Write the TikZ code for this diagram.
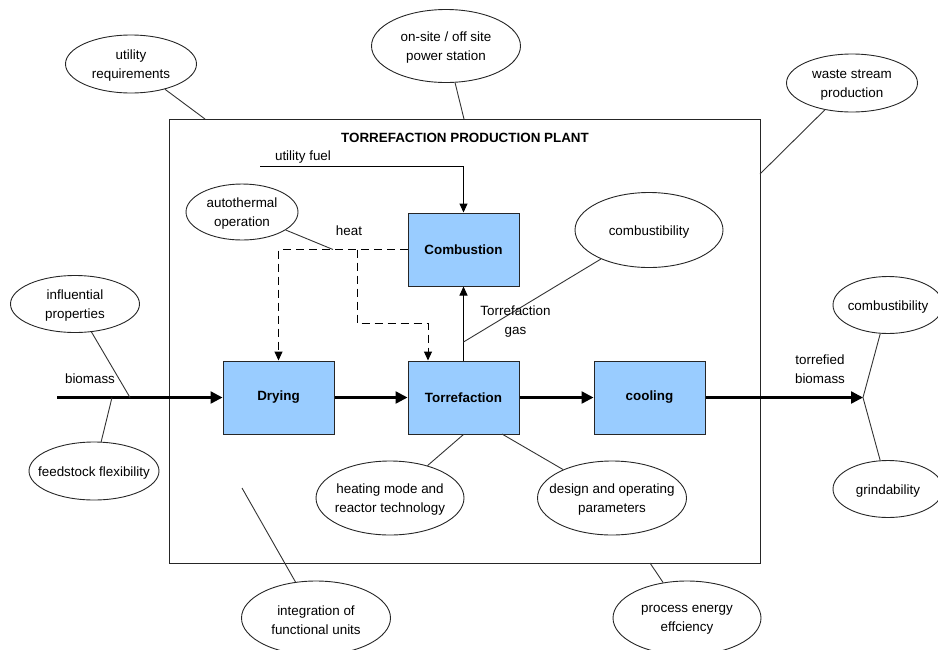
\documentclass[tikz,border=0pt]{standalone}
\usepackage{fontspec}
\setmainfont{Liberation Sans}
\usetikzlibrary{shapes.geometric,arrows.meta}
\definecolor{unitblue}{HTML}{99CCFF}

\begin{document}
\begin{tikzpicture}[x=1pt,y=-1pt,
  font=\fontsize{13.4}{19}\selectfont,
  unit/.style={draw=black!85,line width=1pt,fill=unitblue,minimum width=111pt,minimum height=73pt,inner sep=0pt,font=\fontsize{13.4}{19}\selectfont\bfseries},
  prop/.style={ellipse,draw=black!85,line width=0.9pt,inner sep=0pt,label={[align=center,yshift=-2pt]center:#1}},
  flow/.style={line width=2.4pt,-{Triangle[length=12pt,width=12pt]}},
  feed/.style={line width=1pt,-{Triangle[length=9pt,width=8pt]}},
  heatline/.style={line width=1pt,dash pattern=on 8pt off 5pt,-{Triangle[length=9pt,width=8pt]}},
  link/.style={draw=black!80,line width=0.9pt}]

  \useasboundingbox (0,0) rectangle (938,649);

  \node (P) [draw=black!85,line width=1pt,minimum width=591pt,minimum height=444pt,inner sep=0pt] at (464.5,341) {};
  \node (title) at (465,138) {\bfseries TORREFACTION PRODUCTION PLANT};

  \node (C) [unit] at (463.5,249.5) {Combustion};
  \node (D) [unit] at (278.5,397.5) {Drying};
  \node (T) [unit] at (463.5,397.5) {Torrefaction};
  \node (K) [unit] at (649.5,397.5) {cooling};

  \node (UR) [prop={utility\\requirements},minimum width=131pt,minimum height=58pt] at (131,64) {};
  \node (PS) [prop={on-site / off site\\power station},minimum width=149pt,minimum height=73pt] at (446,46) {};
  \node (WS) [prop={waste stream\\production},minimum width=131pt,minimum height=58pt] at (852,83) {};
  \node (AO) [prop={autothermal\\operation},minimum width=112pt,minimum height=56pt] at (242,212) {};
  \node (CB) [prop={combustibility},minimum width=148pt,minimum height=75pt] at (649,230) {};
  \node (IP) [prop={influential\\properties},minimum width=129pt,minimum height=57pt] at (75,304) {};
  \node (FF) [prop={feedstock flexibility},minimum width=130pt,minimum height=58pt] at (94,471) {};
  \node (HM) [prop={heating mode and\\reactor technology},minimum width=148pt,minimum height=74pt] at (390,498) {};
  \node (DP) [prop={design and operating\\parameters},minimum width=149pt,minimum height=74pt] at (612,498) {};
  \node (IF) [prop={integration of\\functional units},minimum width=149pt,minimum height=74pt] at (316,618) {};
  \node (PE) [prop={process energy\\effciency},minimum width=148pt,minimum height=74pt] at (687,618) {};
  \node (CB2) [prop={combustibility},minimum width=110pt,minimum height=57pt] at (888,305) {};
  \node (GR) [prop={grindability},minimum width=110pt,minimum height=57pt] at (888,489) {};

  \coordinate (in) at (57,397.5);
  \coordinate (out) at (863,397.5);
  \coordinate (fuel) at (260,166);
  \coordinate (h0) at (333,249.5);
  \coordinate (h1) at (357,249.5);
  \coordinate (h2) at (428,323);
  \coordinate (gas) at (463.5,342);
  \coordinate (bio) at (130,397.5);
  \coordinate (bio2) at (112,397.5);
  \coordinate (p1) at (205,119);
  \coordinate (p2) at (464,119);
  \coordinate (p3) at (760,174);
  \coordinate (p4) at (242,488);
  \coordinate (p5) at (650,563);
  \coordinate (p6) at (502,434);

  \draw [flow] (in) -- (D);
  \draw [flow] (D) -- (T);
  \draw [flow] (T) -- (K);
  \draw [flow] (K) -- (out);
  \draw [feed] (T) -- (C);
  \draw [feed] (fuel) -| (C);
  \draw [heatline] (C.west) -| (D.north);
  \draw [heatline] (h1) |- (h2) -- (h2 |- T.north);

  \draw [link] (UR) -- (p1);
  \draw [link] (PS) -- (p2);
  \draw [link] (WS) -- (p3);
  \draw [link] (AO) -- (h0);
  \draw [link] (CB) -- (gas);
  \draw [link] (IP) -- (bio);
  \draw [link] (FF) -- (bio2);
  \draw [link] (HM) -- (T.south);
  \draw [link] (DP) -- (p6);
  \draw [link] (IF) -- (p4);
  \draw [link] (PE) -- (p5);
  \draw [link] (CB2) -- (out);
  \draw [link] (GR) -- (out);

  \node (lf) at (303,157) {utility fuel};
  \node (lh) at (349,231) {heat};
  \node (lb) at (90,379) {biomass};
  \node (lg) [align=center] at (515.5,322) {Torrefaction\\gas};
  \node (lt) [align=center] at (820,369) {torrefied\\biomass};

\end{tikzpicture}
\end{document}
